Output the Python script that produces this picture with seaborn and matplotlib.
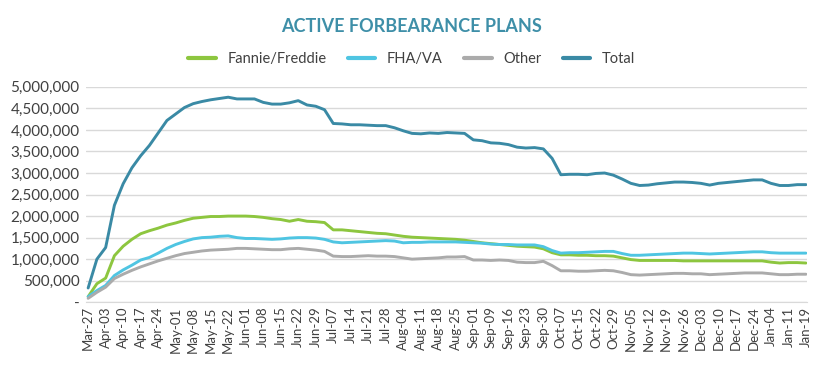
import matplotlib
matplotlib.use("Agg")
import matplotlib.pyplot as plt
import pandas as pd
import seaborn as sns
from matplotlib.lines import Line2D
from matplotlib.ticker import FuncFormatter, MultipleLocator

# weekly tick labels (category axis, one label every second point)
week_labels = [
    "Mar-27", "Apr-03", "Apr-10", "Apr-17", "Apr-24", "May-01", "May-08",
    "May-15", "May-22", "Jun-01", "Jun-08", "Jun-15", "Jun-22", "Jun-29",
    "Jul-07", "Jul-14", "Jul-21", "Jul-28", "Aug-04", "Aug-11", "Aug-18",
    "Aug-25", "Sep-01", "Sep-09", "Sep-16", "Sep-23", "Sep-30", "Oct-07",
    "Oct-15", "Oct-22", "Oct-29", "Nov-05", "Nov-12", "Nov-19", "Nov-26",
    "Dec-03", "Dec-10", "Dec-17", "Dec-24", "Jan-04", "Jan-11", "Jan-19",
]

# active plans in millions, read twice a week off the chart
fannie_freddie = [
    0.13, 0.43, 0.56, 1.08, 1.30, 1.46, 1.59, 1.66, 1.72, 1.79, 1.84, 1.90,
    1.95, 1.97, 1.99, 1.99, 2.00, 2.00, 2.00, 1.99, 1.97, 1.94, 1.92, 1.88,
    1.92, 1.88, 1.87, 1.85, 1.68, 1.68, 1.66, 1.64, 1.62, 1.60, 1.59, 1.56,
    1.53, 1.51, 1.50, 1.49, 1.48, 1.47, 1.46, 1.44, 1.41, 1.38, 1.36, 1.34,
    1.32, 1.30, 1.29, 1.28, 1.24, 1.15, 1.10, 1.10, 1.09, 1.09, 1.08, 1.08,
    1.07, 1.03, 0.99, 0.97, 0.97, 0.97, 0.97, 0.97, 0.96, 0.96, 0.96, 0.96,
    0.96, 0.96, 0.96, 0.96, 0.96, 0.96, 0.93, 0.91, 0.92, 0.92, 0.91,
]
fha_va = [
    0.13, 0.27, 0.39, 0.62, 0.75, 0.86, 0.98, 1.04, 1.14, 1.25, 1.34, 1.41,
    1.47, 1.50, 1.51, 1.53, 1.54, 1.50, 1.48, 1.48, 1.47, 1.46, 1.47, 1.49,
    1.50, 1.50, 1.49, 1.46, 1.40, 1.38, 1.39, 1.40, 1.41, 1.42, 1.43, 1.42,
    1.38, 1.39, 1.39, 1.40, 1.40, 1.40, 1.40, 1.39, 1.38, 1.37, 1.35, 1.34,
    1.34, 1.33, 1.33, 1.33, 1.29, 1.20, 1.14, 1.15, 1.15, 1.16, 1.17, 1.18,
    1.18, 1.13, 1.09, 1.09, 1.10, 1.11, 1.12, 1.13, 1.14, 1.14, 1.13, 1.12,
    1.13, 1.14, 1.15, 1.16, 1.17, 1.17, 1.15, 1.14, 1.14, 1.14, 1.14,
]
other = [
    0.09, 0.23, 0.35, 0.55, 0.65, 0.74, 0.82, 0.89, 0.96, 1.02, 1.08, 1.13,
    1.16, 1.19, 1.21, 1.22, 1.23, 1.25, 1.25, 1.24, 1.23, 1.22, 1.22, 1.24,
    1.25, 1.23, 1.21, 1.18, 1.07, 1.06, 1.06, 1.07, 1.08, 1.07, 1.07, 1.06,
    1.03, 1.00, 1.01, 1.02, 1.03, 1.05, 1.05, 1.06, 0.98, 0.98, 0.97, 0.98,
    0.97, 0.93, 0.92, 0.92, 0.95, 0.85, 0.73, 0.73, 0.72, 0.72, 0.73, 0.74,
    0.73, 0.69, 0.64, 0.63, 0.64, 0.65, 0.66, 0.67, 0.67, 0.66, 0.66, 0.64,
    0.65, 0.66, 0.67, 0.68, 0.68, 0.68, 0.66, 0.64, 0.64, 0.65, 0.65,
]
total = [
    0.33, 1.00, 1.27, 2.25, 2.75, 3.12, 3.40, 3.64, 3.93, 4.22, 4.37, 4.52,
    4.61, 4.66, 4.70, 4.73, 4.76, 4.72, 4.72, 4.72, 4.64, 4.60, 4.60, 4.63,
    4.68, 4.58, 4.55, 4.47, 4.15, 4.14, 4.12, 4.12, 4.11, 4.10, 4.10, 4.05,
    3.98, 3.92, 3.91, 3.93, 3.92, 3.94, 3.93, 3.92, 3.77, 3.75, 3.70, 3.69,
    3.66, 3.60, 3.58, 3.59, 3.56, 3.34, 2.96, 2.97, 2.97, 2.96, 2.99, 3.00,
    2.95, 2.86, 2.76, 2.71, 2.72, 2.75, 2.77, 2.79, 2.79, 2.78, 2.76, 2.72,
    2.76, 2.78, 2.80, 2.82, 2.84, 2.84, 2.76, 2.71, 2.71, 2.73, 2.73,
]

series_names = ["Fannie/Freddie", "FHA/VA", "Other", "Total"]
series_values = [fannie_freddie, fha_va, other, total]
palette = {
    "Fannie/Freddie": "#8DC63F",
    "FHA/VA": "#4FC5E2",
    "Other": "#ABABAB",
    "Total": "#3A8AA5",
}

rows = []
for name, vals in zip(series_names, series_values):
    for i, v in enumerate(vals):
        rows.append({"point": i, "plans": v * 1e6, "series": name})
df = pd.DataFrame(rows)

sns.set_style("white")
plt.rcParams["font.family"] = ["Lato", "DejaVu Sans"]

fig, ax = plt.subplots(figsize=(8.15, 3.65), dpi=100)
fig.subplots_adjust(left=0.106, right=0.99, top=0.762, bottom=0.172)

sns.lineplot(data=df, x="point", y="plans", hue="series",
             hue_order=series_names, palette=palette, linewidth=2.1,
             legend=False, ax=ax)

ax.set_xlim(-0.2, len(total) - 0.9)
ax.set_ylim(0, 5e6)
ax.yaxis.set_major_locator(MultipleLocator(5e5))
ax.yaxis.set_major_formatter(
    FuncFormatter(lambda v, _: "-" if v == 0 else f"{v:,.0f}"))
ax.grid(axis="y", color="#D9D9D9", linewidth=1)
ax.set_axisbelow(True)

ax.set_xticks(range(0, len(total), 2))
ax.set_xticklabels(week_labels, rotation=90, fontsize=9.5, color="#404040")
ax.tick_params(axis="y", labelsize=11, labelcolor="#404040", length=0, pad=5)
ax.tick_params(axis="x", length=0, pad=3)
ax.set_xlabel("")
ax.set_ylabel("")

for side in ["top", "right", "left"]:
    ax.spines[side].set_visible(False)
ax.spines["bottom"].set_color("#D9D9D9")

handles = [Line2D([0], [0], color=palette[n], linewidth=3) for n in series_names]
fig.legend(handles, series_names, loc="center", bbox_to_anchor=(0.505, 0.838),
           ncol=4, frameon=False, fontsize=10.5, handlelength=1.9,
           handletextpad=0.8, columnspacing=1.45, labelcolor="#404040")

fig.suptitle("ACTIVE FORBEARANCE PLANS", x=0.505, y=0.95, fontsize=13,
             fontweight="bold", color="#3E8FA8")

fig.savefig("out.png", dpi=100)
